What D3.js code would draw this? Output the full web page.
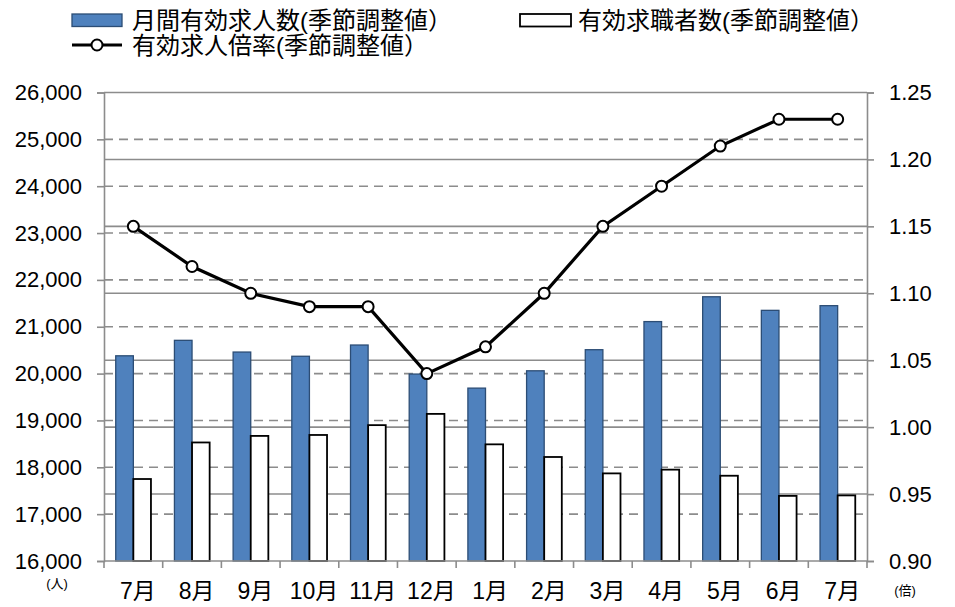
<!DOCTYPE html>
<html>
<head>
<meta charset="utf-8">
<script src="https://cdn.jsdelivr.net/npm/d3@7"></script>
<style>
  body { margin: 0; background: #fff; }
  svg text { font-family: "Liberation Sans", "Noto Sans CJK JP", sans-serif; fill: #000; }
</style>
</head>
<body>
<div id="app"></div>
<script>
// 月間有効求人数 / 有効求職者数 / 有効求人倍率 (季節調整値)
const months = ["7月", "8月", "9月", "10月", "11月", "12月", "1月", "2月", "3月", "4月", "5月", "6月", "7月"];
const openings = [20380, 20710, 20460, 20370, 20610, 19990, 19690, 20060, 20510, 21110, 21640, 21350, 21450];
const seekers = [17750, 18530, 18670, 18690, 18900, 19140, 18490, 18220, 17870, 17950, 17820, 17390, 17400];
const ratio = [1.15, 1.12, 1.10, 1.09, 1.09, 1.04, 1.06, 1.10, 1.15, 1.18, 1.21, 1.23, 1.23];
const leftTicks = [16000, 17000, 18000, 19000, 20000, 21000, 22000, 23000, 24000, 25000, 26000];
const rightTicks = [0.90, 0.95, 1.00, 1.05, 1.10, 1.15, 1.20, 1.25];

const width = 955;
const height = 607;
const plotLeft = 104, plotRight = 867, plotTop = 92.5, plotBottom = 561;
const gridColor = "#8c8c8c";

const svg = d3.select('#app')
  .append('svg')
  .attr('width', width)
  .attr('height', height);

const x = d3.scaleBand()
  .domain(d3.range(months.length))
  .range([plotLeft, plotRight])
  .padding(0);

const yL = d3.scaleLinear().domain([16000, 26000]).range([plotBottom, plotTop]);
const yR = d3.scaleLinear().domain([0.90, 1.25]).range([plotBottom, plotTop]);

// gridlines: left axis dashed, right axis solid
svg.append('g')
  .selectAll('line')
  .data(leftTicks.slice(1, -1))
  .enter()
  .append('line')
  .attr('x1', plotLeft).attr('x2', plotRight)
  .attr('y1', d => yL(d)).attr('y2', d => yL(d))
  .attr('stroke', gridColor)
  .attr('stroke-width', 1.6)
  .attr('stroke-dasharray', '9,6');

svg.append('g')
  .selectAll('line')
  .data(rightTicks.slice(1))
  .enter()
  .append('line')
  .attr('x1', plotLeft).attr('x2', plotRight)
  .attr('y1', d => yR(d)).attr('y2', d => yR(d))
  .attr('stroke', gridColor)
  .attr('stroke-width', 1.6);

// bars
const barW = x.bandwidth() * 0.3;

svg.append('g')
  .selectAll('rect')
  .data(openings)
  .enter()
  .append('rect')
  .attr('x', (d, i) => x(i) + x.bandwidth() / 2 - barW)
  .attr('y', d => yL(d))
  .attr('width', barW)
  .attr('height', d => yL(16000) - yL(d))
  .attr('fill', '#4f81bd')
  .attr('stroke', '#2c4d75')
  .attr('stroke-width', 1.3);

svg.append('g')
  .selectAll('rect')
  .data(seekers)
  .enter()
  .append('rect')
  .attr('x', (d, i) => x(i) + x.bandwidth() / 2)
  .attr('y', d => yL(d))
  .attr('width', barW)
  .attr('height', d => yL(16000) - yL(d))
  .attr('fill', '#fff')
  .attr('stroke', '#000')
  .attr('stroke-width', 1.8);

// axes
const axisL = svg.append('g')
  .attr('transform', `translate(${plotLeft},0)`)
  .call(d3.axisLeft(yL).tickValues(leftTicks).tickFormat(d3.format(',')).tickSize(7).tickPadding(15));

const axisR = svg.append('g')
  .attr('transform', `translate(${plotRight},0)`)
  .call(d3.axisRight(yR).tickValues(rightTicks).tickFormat(d3.format('.2f')).tickSize(7).tickPadding(15));

const axisB = svg.append('g')
  .attr('transform', `translate(0,${plotBottom})`)
  .call(d3.axisBottom(x).tickFormat(i => months[i]).tickSize(0).tickPadding(22));

axisB.selectAll('.bound')
  .data(d3.range(months.length + 1))
  .enter()
  .append('line')
  .attr('class', 'bound')
  .attr('x1', i => plotLeft + i * x.step())
  .attr('x2', i => plotLeft + i * x.step())
  .attr('y1', 0).attr('y2', 7)
  .attr('stroke', gridColor)
  .attr('stroke-width', 1.6);

[axisL, axisR, axisB].forEach(a => {
  a.select('.domain').attr('stroke', gridColor).attr('stroke-width', 1.6);
  a.selectAll('.tick line').attr('stroke', gridColor).attr('stroke-width', 1.6);
  a.selectAll('.tick text').attr('font-size', 22).attr('fill', '#000');
});
axisB.selectAll('.tick text').attr('font-size', 23).attr('dx', '0.2em');
axisB.select('.domain').attr('d', `M${plotLeft},0H${plotRight}`);

// ratio line
const line = d3.line()
  .x((d, i) => x(i) + x.bandwidth() / 2)
  .y(d => yR(d));

svg.append('path')
  .datum(ratio)
  .attr('d', line)
  .attr('fill', 'none')
  .attr('stroke', '#000')
  .attr('stroke-width', 3.2);

svg.append('g')
  .selectAll('circle')
  .data(ratio)
  .enter()
  .append('circle')
  .attr('cx', (d, i) => x(i) + x.bandwidth() / 2)
  .attr('cy', d => yR(d))
  .attr('r', 5.5)
  .attr('fill', '#fff')
  .attr('stroke', '#000')
  .attr('stroke-width', 2);

// unit labels
svg.append('text')
  .attr('x', 57).attr('y', 588)
  .attr('text-anchor', 'middle')
  .attr('font-size', 13)
  .text('(人)');

svg.append('text')
  .attr('x', 905).attr('y', 595)
  .attr('text-anchor', 'middle')
  .attr('font-size', 13)
  .text('(倍)');

// legend
const legend = svg.append('g').attr('font-size', 24);

legend.append('rect')
  .attr('x', 72).attr('y', 14).attr('width', 50).attr('height', 12.5)
  .attr('fill', '#4f81bd').attr('stroke', '#2c4d75').attr('stroke-width', 1.3);
legend.append('text')
  .attr('x', 132).attr('y', 29)
  .text('月間有効求人数(季節調整値）');

legend.append('rect')
  .attr('x', 520).attr('y', 14).attr('width', 51).attr('height', 12.5)
  .attr('fill', '#fff').attr('stroke', '#000').attr('stroke-width', 1.8);
legend.append('text')
  .attr('x', 578).attr('y', 29)
  .text('有効求職者数(季節調整値）');

legend.append('line')
  .attr('x1', 72).attr('x2', 122).attr('y1', 45).attr('y2', 45)
  .attr('stroke', '#000').attr('stroke-width', 3.2);
legend.append('circle')
  .attr('cx', 97).attr('cy', 45).attr('r', 5.5)
  .attr('fill', '#fff').attr('stroke', '#000').attr('stroke-width', 2);
legend.append('text')
  .attr('x', 132).attr('y', 54)
  .text('有効求人倍率(季節調整値）');
</script>
</body>
</html>
